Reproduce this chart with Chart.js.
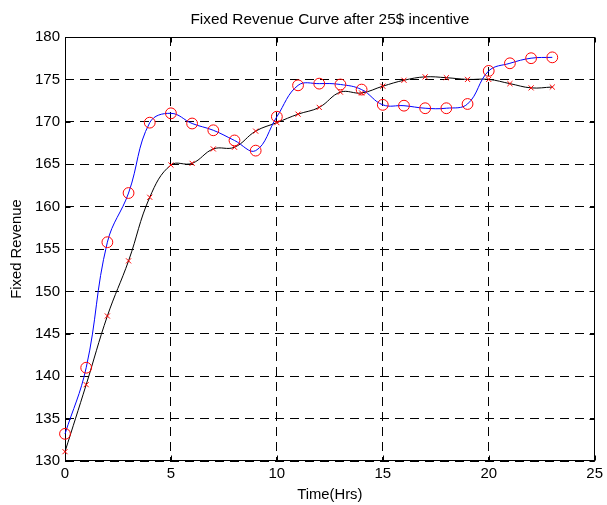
<!DOCTYPE html>
<html><head><meta charset="utf-8">
<script src="https://cdn.jsdelivr.net/npm/chart.js@4/dist/chart.umd.min.js"></script>
<style>html,body{margin:0;padding:0;background:#fff;}canvas{display:block;}</style>
</head><body>
<canvas id="c" width="607" height="505"></canvas>
<script>
const hours = [0,1,2,3,4,5,6,7,8,9,10,11,12,13,14,15,16,17,18,19,20,21,22,23];
const revenueCircle = [133.2,141.0,155.8,161.6,169.9,171.0,169.8,169.0,167.8,166.6,170.6,174.3,174.5,174.4,173.8,172.0,171.9,171.6,171.6,172.1,176.0,176.9,177.5,177.6];
const revenueCross = [131.1,139.0,147.1,153.6,161.1,164.9,165.1,166.8,167.0,168.9,169.9,170.9,171.7,173.5,173.4,174.2,174.9,175.3,175.2,175.0,175.0,174.5,174.0,174.1];
const xTicks = [0,5,10,15,20,25];
const yTicks = [130,135,140,145,150,155,160,165,170,175,180];
const titleText = 'Fixed Revenue Curve after 25$ incentive';
const xLabel = 'Time(Hrs)';
const yLabel = 'Fixed Revenue';

const FAMILY = '"Liberation Sans", Arial, Helvetica, sans-serif';
Chart.defaults.font.family = FAMILY;
Chart.defaults.color = '#000';

const boxPlugin = {
  id: 'box',
  beforeDatasetsDraw(chart) {
    const {ctx, chartArea: a, scales: {x, y}} = chart;
    ctx.save();
    ctx.strokeStyle = '#000';
    ctx.lineWidth = 1;
    ctx.setLineDash([]);
    const L = Math.round(a.left) + 0.5, R = Math.round(a.right) - 0.5;
    const T = Math.round(a.top) + 0.5, B = Math.round(a.bottom) - 0.5;
    ctx.strokeRect(L, T, R - L, B - T);
    ctx.beginPath();
    xTicks.forEach(v => {
      const px = Math.round(x.getPixelForValue(v)) + 0.5;
      ctx.moveTo(px, B); ctx.lineTo(px, B - 5);
      ctx.moveTo(px, T); ctx.lineTo(px, T + 5);
    });
    yTicks.forEach(v => {
      const py = Math.round(y.getPixelForValue(v)) + 0.5;
      ctx.moveTo(L, py); ctx.lineTo(L + 5, py);
      ctx.moveTo(R, py); ctx.lineTo(R - 5, py);
    });
    ctx.stroke();
    ctx.restore();
  }
};

new Chart(document.getElementById('c'), {
  type: 'line',
  data: {
    datasets: [
      {
        data: hours.map((h, i) => ({x: h, y: revenueCircle[i]})),
        borderColor: '#0000ff',
        borderWidth: 1,
        tension: 0.4,
        pointStyle: 'circle',
        pointRadius: 5.4,
        pointBorderColor: '#ff0000',
        pointBackgroundColor: 'rgba(0,0,0,0)',
        pointBorderWidth: 1,
        fill: false,
        clip: false
      },
      {
        data: hours.map((h, i) => ({x: h, y: revenueCross[i]})),
        borderColor: '#000000',
        borderWidth: 1,
        tension: 0.4,
        pointStyle: 'crossRot',
        pointRadius: 3.6,
        pointBorderColor: '#ff0000',
        pointBackgroundColor: '#ff0000',
        pointBorderWidth: 1,
        fill: false,
        clip: false
      }
    ]
  },
  options: {
    responsive: false,
    animation: false,
    events: [],
    layout: {padding: {left: 0, right: 8, top: 0, bottom: 0}},
    plugins: {
      legend: {display: false},
      tooltip: {enabled: false},
      title: {
        display: true,
        fullSize: false,
        text: titleText,
        color: '#000',
        font: {size: 15.4, weight: 'normal'},
        padding: {top: 10.3, bottom: 8.22}
      }
    },
    scales: {
      x: {
        type: 'linear',
        min: 0, max: 25,
        afterBuildTicks: s => { s.ticks = xTicks.map(v => ({value: v})); },
        afterFit: s => { s.height = 44; },
        ticks: {font: {size: 15}, color: '#000', padding: 4, maxRotation: 0},
        grid: {color: '#000', lineWidth: 1, drawTicks: false},
        border: {display: false, dash: [9, 6]},
        title: {display: true, text: xLabel, color: '#000', font: {size: 14.8}, padding: {top: 0, bottom: 1.2}}
      },
      y: {
        type: 'linear',
        min: 130, max: 180,
        afterBuildTicks: s => { s.ticks = yTicks.map(v => ({value: v})); },
        afterFit: s => { s.width = 65; },
        ticks: {font: {size: 15}, color: '#000', padding: 5},
        grid: {color: '#000', lineWidth: 1, drawTicks: false},
        border: {display: false, dash: [9, 6]},
        title: {display: true, text: yLabel, color: '#000', font: {size: 14.8}, padding: {top: 8, bottom: 0}}
      }
    }
  },
  plugins: [boxPlugin]
});
</script>
</body></html>
